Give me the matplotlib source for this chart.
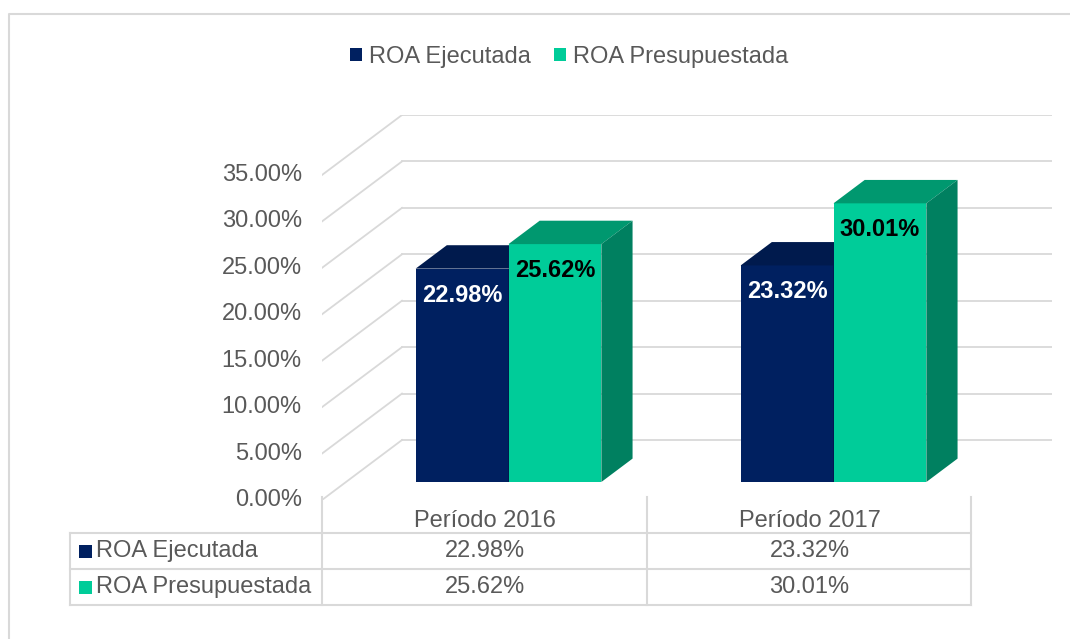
import matplotlib
matplotlib.use('Agg')
import matplotlib.pyplot as plt
from matplotlib.patches import Polygon, Rectangle, Patch
from matplotlib.ticker import FuncFormatter
import matplotlib.transforms as mtransforms

# Data
categories = ['Período 2016', 'Período 2017']
series_names = ['ROA Ejecutada', 'ROA Presupuestada']
roa_ejecutada = [22.98, 23.32]
roa_presupuestada = [25.62, 30.01]
y_ticks = [0, 5, 10, 15, 20, 25, 30, 35]

# Colours (front, top, side)
front_colors = ['#002060', '#00CC99']
top_colors = ['#001A4D', '#00986F']
side_colors = ['#001640', '#008060']
text_color = '#595959'
grid_color = '#D9D9D9'

plt.rcParams['font.family'] = ['Liberation Sans', 'DejaVu Sans']

W, H = 1070, 639
fig = plt.figure(figsize=(W / 100, H / 100), dpi=100)

# 3D oblique offsets (full floor depth) in data units
DX = 80 / 325
DY = 60 / (325 / 35)
bar_w = 1 / 3.5
d0, d1 = 0.3, 0.69

ax = fig.add_axes([322 / W, 1 - 500 / H, 730 / W, 385 / H])
ax.set_xlim(0, len(categories) + DX)
ax.set_ylim(0, 35 + DY)
ax.axis('off')

# Walls: side wall diagonals and back wall gridlines
for v in y_ticks:
    ax.plot([0, DX], [v, v + DY], color=grid_color, lw=1.3, zorder=1)
    ax.plot([DX, len(categories) + DX], [v + DY, v + DY], color=grid_color, lw=1.3, zorder=1)

# Y tick labels at the front edge
for v in y_ticks:
    ax.annotate('{:.2f}%'.format(v), (0, v), xytext=(-14.5, 0), textcoords='offset points',
                ha='right', va='center', fontsize=17, color=text_color)

# Bars
all_series = [roa_ejecutada, roa_presupuestada]
for i, cat in enumerate(categories):
    for s, vals in enumerate(all_series):
        val = vals[i]
        x0 = i + 0.5 - bar_w + s * bar_w + d0 * DX
        x1 = x0 + bar_w
        yb = d0 * DY
        yt = val + d0 * DY
        ddx = (d1 - d0) * DX
        ddy = (d1 - d0) * DY
        z = 3 + s
        ax.add_patch(Polygon([(x0, yb), (x1, yb), (x1, yt), (x0, yt)], closed=True,
                             facecolor=front_colors[s], edgecolor='none', zorder=z))
        ax.add_patch(Polygon([(x0, yt), (x1, yt), (x1 + ddx, yt + ddy), (x0 + ddx, yt + ddy)],
                             closed=True, facecolor=top_colors[s], edgecolor='none', zorder=z))
        ax.add_patch(Polygon([(x1, yb), (x1 + ddx, yb + ddy), (x1 + ddx, yt + ddy), (x1, yt)],
                             closed=True, facecolor=side_colors[s], edgecolor='none', zorder=z))
        lbl_color = 'white' if s == 0 else 'black'
        ax.annotate('{:.2f}%'.format(val), ((x0 + x1) / 2, yt), xytext=(0, -19),
                    textcoords='offset points', ha='center', va='center', fontsize=17,
                    fontweight='bold', color=lbl_color, zorder=10)

# Legend
handles = [Patch(facecolor=c, edgecolor='none') for c in front_colors]
fig.legend(handles, series_names, loc='center', bbox_to_anchor=(569 / W, 1 - 57 / H),
           ncol=2, frameon=False, fontsize=17, handlelength=0.5, handleheight=0.5,
           handletextpad=0.3, columnspacing=1.0, labelcolor=text_color)

# Data table
tbl = fig.add_axes([0, 0, 1, 1], zorder=-1)
tbl.set_xlim(0, W)
tbl.set_ylim(H, 0)
tbl.axis('off')
col_x = [322, 647, 971]
row_y = [533, 569, 605]
for x in col_x:
    tbl.plot([x, x], [497, 605], color=grid_color, lw=1.5)
tbl.plot([70, 70], [533, 605], color=grid_color, lw=1.5)
for y in row_y:
    tbl.plot([70, 971], [y, y], color=grid_color, lw=1.5)
# Outer border
tbl.plot([9, 9, W + 5], [H + 5, 14, 14], color=grid_color, lw=1.5)

trans = mtransforms.blended_transform_factory(ax.transData, tbl.transData)
for i, cat in enumerate(categories):
    tbl.text(i + 0.5, 521, cat, transform=trans, ha='center', va='center',
             fontsize=17, color=text_color)
    for s, vals in enumerate(all_series):
        yc = (row_y[s] + row_y[s + 1]) / 2
        tbl.text(i + 0.5, yc, '{:.2f}%'.format(vals[i]), transform=trans, ha='center',
                 va='center', fontsize=17, color=text_color)
for s, name in enumerate(series_names):
    yc = (row_y[s] + row_y[s + 1]) / 2
    tbl.add_patch(Rectangle((79, yc - 6.5), 13, 13, facecolor=front_colors[s], edgecolor='none'))
    tbl.text(96, yc, name, ha='left', va='center', fontsize=17, color=text_color)

fig.savefig('out.png', dpi=100, facecolor='white')
